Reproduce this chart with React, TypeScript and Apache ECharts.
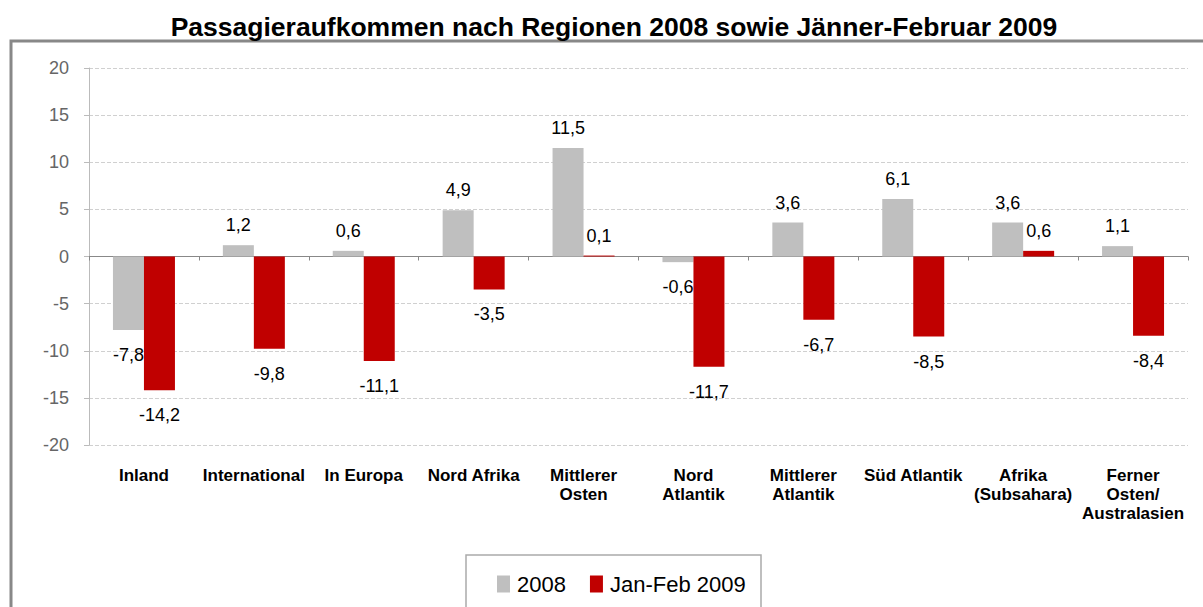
import React, { useEffect, useRef } from "react";
import * as echarts from "echarts";

const categories = [
  "Inland",
  "International",
  "In Europa",
  "Nord Afrika",
  "Mittlerer\nOsten",
  "Nord\nAtlantik",
  "Mittlerer\nAtlantik",
  "Süd Atlantik",
  "Afrika\n(Subsahara)",
  "Ferner\nOsten/\nAustralasien",
];
const values2008 = [-7.8, 1.2, 0.6, 4.9, 11.5, -0.6, 3.6, 6.1, 3.6, 1.1];
const valuesJanFeb2009 = [-14.2, -9.8, -11.1, -3.5, 0.1, -11.7, -6.7, -8.5, 0.6, -8.4];
const seriesNames = ["2008", "Jan-Feb 2009"];
const yTicks = { min: -20, max: 20, interval: 5 };

const FONT = "Liberation Sans, Arial, sans-serif";
const fmt = (v: number) => String(v).replace(".", ",");

const labelled = (vals: number[]) =>
  vals.map((v) => ({
    value: v,
    label: { position: v >= 0 ? "top" : "bottom", distance: v >= 0 ? 11 : 16 },
  }));

export default function App() {
  const ref = useRef<HTMLDivElement>(null);
  useEffect(() => {
    const chart = echarts.init(ref.current!, null, { renderer: "svg" });
    const labelStyle = {
      show: true,
      fontSize: 18,
      color: "#000",
      fontFamily: FONT,
      formatter: (p: any) => fmt(p.value),
    };
    chart.setOption({
      animation: false,
      backgroundColor: "#fff",
      title: {
        text: "Passagieraufkommen nach Regionen 2008 sowie Jänner-Februar 2009",
        left: 609,
        top: 8,
        textAlign: "center",
        textStyle: {
          fontFamily: FONT,
          fontWeight: "bold",
          fontSize: 26.5,
          color: "#000",
        },
      },
      legend: {
        left: 492,
        top: 568,
        itemWidth: 13,
        itemHeight: 17,
        itemGap: 24,
        icon: "rect",
        textStyle: {
          fontFamily: FONT,
          fontSize: 22,
          color: "#000",
          padding: [0, 0, 0, 2],
        },
        data: seriesNames,
      },
      grid: { left: 89, right: 15, top: 68, bottom: 162 },
      xAxis: [
        {
          type: "category",
          data: categories,
          axisLine: { onZero: true, lineStyle: { color: "#888", width: 1 } },
          axisTick: { show: true, length: 4, lineStyle: { color: "#888" } },
          axisLabel: { show: false },
        },
        {
          type: "category",
          data: categories,
          position: "bottom",
          axisLine: { show: false },
          axisTick: { show: false },
          axisLabel: {
            show: true,
            interval: 0,
            margin: 21,
            fontFamily: FONT,
            fontWeight: "bold",
            fontSize: 17,
            lineHeight: 19,
            color: "#000",
          },
        },
      ],
      yAxis: {
        type: "value",
        min: yTicks.min,
        max: yTicks.max,
        interval: yTicks.interval,
        axisLine: { show: true, lineStyle: { color: "#bbb" } },
        axisTick: { show: true, length: 5, lineStyle: { color: "#bbb" } },
        axisLabel: {
          fontFamily: FONT,
          fontSize: 18,
          color: "#666",
          margin: 20,
        },
        splitLine: { show: true, lineStyle: { color: "#d0d0d0", type: "dashed" } },
      },
      series: [
        {
          name: seriesNames[0],
          type: "bar",
          xAxisIndex: 0,
          data: labelled(values2008),
          itemStyle: { color: "#bfbfbf" },
          barWidth: 31,
          barGap: "0%",
          label: labelStyle,
        },
        {
          name: seriesNames[1],
          type: "bar",
          xAxisIndex: 0,
          data: labelled(valuesJanFeb2009),
          itemStyle: { color: "#c00000" },
          barWidth: 31,
          barGap: "0%",
          label: labelStyle,
        },
      ],
      graphic: [
        {
          type: "rect",
          shape: { x: 11, y: 41, width: 1250, height: 650 },
          style: { fill: "none", stroke: "#888", lineWidth: 3 },
          silent: true,
        },
        {
          type: "rect",
          shape: { x: 466, y: 555, width: 295, height: 70 },
          style: { fill: "none", stroke: "#aaa", lineWidth: 1.5 },
          silent: true,
        },
      ],
    });
    return () => chart.dispose();
  }, []);
  return (
    <div
      ref={ref}
      style={{ position: "absolute", left: 0, top: 0, width: 1203, height: 607 }}
    />
  );
}
